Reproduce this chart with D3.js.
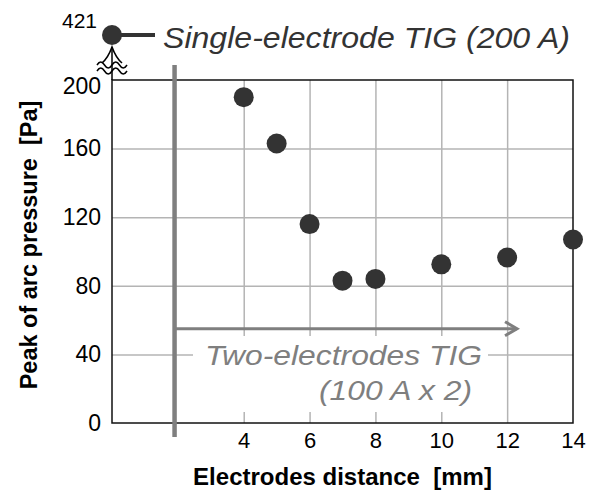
<!DOCTYPE html>
<html>
<head>
<meta charset="utf-8">
<script src="https://cdn.jsdelivr.net/npm/d3@7"></script>
<style>
  html, body { margin: 0; padding: 0; background: #fff; }
  svg { display: block; font-family: "Liberation Sans", Arial, sans-serif; }
  text { white-space: pre; }
</style>
</head>
<body>
<svg id="chart" width="598" height="490"></svg>
<script>
// ── Data ──────────────────────────────────────────────────────────────────────
const distance = [4, 5, 6, 7, 8, 10, 12, 14];
const pressure = [190, 163, 116, 83, 84, 92.5, 96.5, 107];
const singleValue = 421;
const xTicks = [4, 6, 8, 10, 12, 14];
const xGrid = [4, 6, 8, 10, 12];
const yTicks = [0, 40, 80, 120, 160, 200];
const yGrid = [40, 80, 120, 160];
const singleLabel = 'Single-electrode TIG (200 A)';
const twoLabel = ['Two-electrodes TIG', '(100 A x 2)'];
const xTitle = 'Electrodes distance  [mm]';
const yTitle = 'Peak of arc pressure  [Pa]';

// ── Layout ────────────────────────────────────────────────────────────────────
const W = 598, H = 490;
const M = { l: 112, r: 25, t: 80, b: 67 };
const DARK = '#333', GREY = '#7f7f7f', GRID = '#b4b4b4';
const FONT = '"Liberation Sans", Arial, sans-serif';

const svg = d3.select('#chart');
const x = d3.scaleLinear().domain([0, 14]).range([M.l, W - M.r]);
const y = d3.scaleLinear().domain([0, 200]).range([H - M.b, M.t]);
// broken part of the axis, above 200
const yHigh = d3.scaleLinear().domain([200, singleValue]).range([y(200), 35]);

// wide labels: the source stretches them a little
function stretched(sel, len) {
  return sel.attr('textLength', len).attr('lengthAdjust', 'spacingAndGlyphs');
}

// gridlines
svg.append('g')
  .attr('transform', `translate(0,${y(0)})`)
  .call(d3.axisBottom(x).tickValues(xGrid).tickSize(-(y(0) - y(200))).tickFormat(''))
  .call(g => g.select('.domain').remove())
  .selectAll('line').attr('stroke', GRID).attr('stroke-width', 1.5);

svg.append('g')
  .attr('transform', `translate(${x(0)},0)`)
  .call(d3.axisLeft(y).tickValues(yGrid).tickSize(-(x(14) - x(0))).tickFormat(''))
  .call(g => g.select('.domain').remove())
  .selectAll('line').attr('stroke', GRID).attr('stroke-width', 1.5);

// white box behind the two-electrode label
svg.append('rect')
  .attr('x', 193).attr('y', 336).attr('width', 295).attr('height', 76)
  .attr('fill', '#fff');

// frame
svg.append('rect')
  .attr('x', x(0)).attr('y', y(200))
  .attr('width', x(14) - x(0)).attr('height', y(0) - y(200))
  .attr('fill', 'none').attr('stroke', '#111').attr('stroke-width', 1.5);

// tick labels
svg.append('g')
  .attr('transform', `translate(${x(0)},0)`)
  .call(d3.axisLeft(y).tickValues(yTicks).tickSize(0).tickPadding(11))
  .call(g => g.select('.domain').remove())
  .selectAll('text')
  .attr('font-size', 23).attr('fill', '#000').attr('font-family', FONT)
  .attr('y', d => d === 200 ? 6 : 0);

svg.append('g')
  .attr('transform', `translate(0,${y(0)})`)
  .call(d3.axisBottom(x).tickValues(xTicks).tickSize(0).tickPadding(9))
  .call(g => g.select('.domain').remove())
  .selectAll('text')
  .attr('font-size', 22).attr('fill', '#000').attr('font-family', FONT);

// axis titles
svg.append('text')
  .attr('x', (x(0) + x(14)) / 2).attr('y', 485)
  .attr('text-anchor', 'middle').attr('font-size', 24).attr('font-weight', 'bold')
  .text(xTitle);

svg.append('text')
  .attr('transform', 'translate(37,245) rotate(-90)')
  .attr('text-anchor', 'middle').attr('font-size', 23.5).attr('font-weight', 'bold')
  .text(yTitle);

// axis break symbol
const x0 = x(0), yb = y(200);
svg.append('line')
  .attr('x1', x0).attr('x2', x0).attr('y1', yb - 33).attr('y2', yb)
  .attr('stroke', '#000').attr('stroke-width', 1.5);
svg.append('path')
  .attr('d', `M${x0 - 10},${yb - 17} Q${x0 - 4},${yb - 22} ${x0},${yb - 33} Q${x0 + 4},${yb - 22} ${x0 + 10},${yb - 17}`)
  .attr('fill', 'none').attr('stroke', '#000').attr('stroke-width', 1.6);
[yb - 15, yb - 9].forEach(wy => {
  svg.append('path')
    .attr('d', `M${x0 - 15},${wy} c2.5,-4 5,-4 7.5,0 s5,4 7.5,0 s5,-4 7.5,0 s5,4 7.5,0`)
    .attr('fill', 'none').attr('stroke', '#000').attr('stroke-width', 1.5);
});

// two-electrode marker: thick vertical line and arrow
const xs = x(1.9), ya = y(55), xTip = x(12.3);
svg.append('line')
  .attr('x1', xs).attr('x2', xs).attr('y1', 65).attr('y2', 437)
  .attr('stroke', GREY).attr('stroke-width', 4.5);
svg.append('line')
  .attr('x1', xs).attr('x2', xTip).attr('y1', ya).attr('y2', ya)
  .attr('stroke', GREY).attr('stroke-width', 3);
svg.append('path')
  .attr('d', `M${xTip - 12},${ya - 7} L${xTip},${ya} L${xTip - 12},${ya + 7}`)
  .attr('fill', 'none').attr('stroke', GREY).attr('stroke-width', 3);

stretched(svg.append('text')
  .attr('x', 205).attr('y', 365)
  .attr('font-size', 28).attr('font-style', 'italic').attr('fill', GREY)
  .text(twoLabel[0]), 277);
stretched(svg.append('text')
  .attr('x', 319).attr('y', 400)
  .attr('font-size', 28).attr('font-style', 'italic').attr('fill', GREY)
  .text(twoLabel[1]), 153);

// single-electrode point (above the break)
const ys = yHigh(singleValue);
svg.append('line')
  .attr('x1', x0).attr('x2', 155).attr('y1', ys).attr('y2', ys)
  .attr('stroke', DARK).attr('stroke-width', 4);
svg.append('circle')
  .attr('cx', x0).attr('cy', ys).attr('r', 10).attr('fill', DARK);
svg.append('text')
  .attr('x', 97).attr('y', 28).attr('text-anchor', 'end')
  .attr('font-size', 21).text(singleValue);
stretched(svg.append('text')
  .attr('x', 163).attr('y', 48)
  .attr('font-size', 29).attr('font-style', 'italic').attr('fill', DARK)
  .text(singleLabel), 407);

// data points
svg.append('g')
  .selectAll('circle')
  .data(distance.map((d, i) => [d, pressure[i]]))
  .join('circle')
  .attr('cx', d => x(d[0])).attr('cy', d => y(d[1]))
  .attr('r', 10).attr('fill', DARK);
</script>
</body>
</html>
